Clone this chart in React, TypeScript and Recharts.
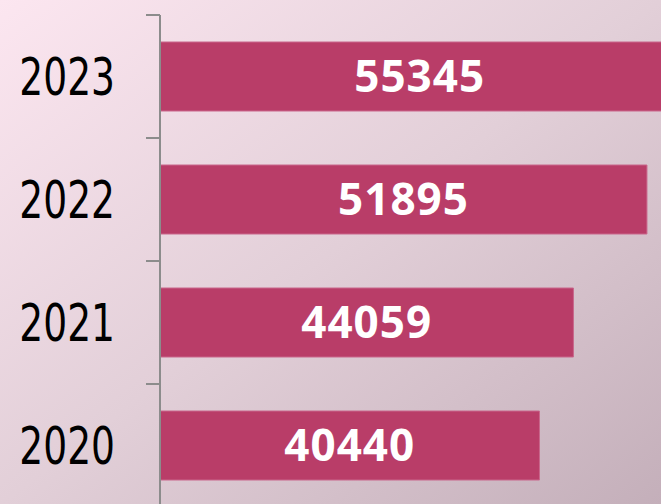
import { BarChart, Bar, XAxis, YAxis, LabelList } from "recharts";

const years = ["2023", "2022", "2021", "2020"];
const values = [55345, 51895, 44059, 40440];

const data = years.map((year, i) => ({ year, value: values[i] }));

const AXIS_X = 160;
const TOP = 15;
const BAND = 123;
const HEIGHT = TOP + BAND * years.length;

// Excel-style: tick marks sit between categories, label in the middle
const YearTick = ({ x, y, payload, index }: any) => {
  const top = y - BAND / 2;
  return (
    <g>
      <line x1={AXIS_X - 14} x2={AXIS_X} y1={top} y2={top} stroke="#8c8c8c" strokeWidth={2} />
      {index === years.length - 1 && (
        <line x1={AXIS_X - 14} x2={AXIS_X} y1={top + BAND} y2={top + BAND} stroke="#8c8c8c" strokeWidth={2} />
      )}
      {/* narrow face isn't installed, so squeeze a regular one */}
      <text
        transform={`translate(${x},${y}) scale(0.82,1)`}
        dy="0.355em"
        textAnchor="end"
        fill="#000"
        fontSize={51}
        fontFamily="'DejaVu Sans Condensed', 'Noto Sans', sans-serif"
      >
        {payload.value}
      </text>
    </g>
  );
};

export default function App() {
  return (
    <div
      style={{
        position: "absolute",
        left: 0,
        top: 0,
        width: 661,
        height: 504,
        overflow: "hidden",
        background: "linear-gradient(to bottom right, #fce6f0 0%, #e2cfd8 50%, #c4afba 100%)",
      }}
    >
      <BarChart
        width={723}
        height={HEIGHT}
        data={data}
        layout="vertical"
        margin={{ top: TOP, right: 0, bottom: 0, left: 0 }}
        barSize={69}
      >
        <XAxis type="number" domain={[0, 60000]} hide />
        <YAxis
          type="category"
          dataKey="year"
          width={AXIS_X}
          axisLine={{ stroke: "#8c8c8c", strokeWidth: 2 }}
          tickLine={false}
          tickSize={14}
          tickMargin={31}
          tick={<YearTick />}
        />
        <Bar dataKey="value" fill="#b93d68" stroke="#c9678b" strokeWidth={1} isAnimationActive={false}>
          <LabelList
            dataKey="value"
            position="center"
            fill="#ffffff"
            fontSize={44}
            fontWeight="bold"
            letterSpacing={1}
            fontFamily="'Open Sans', 'Noto Sans', sans-serif"
          />
        </Bar>
      </BarChart>
    </div>
  );
}
